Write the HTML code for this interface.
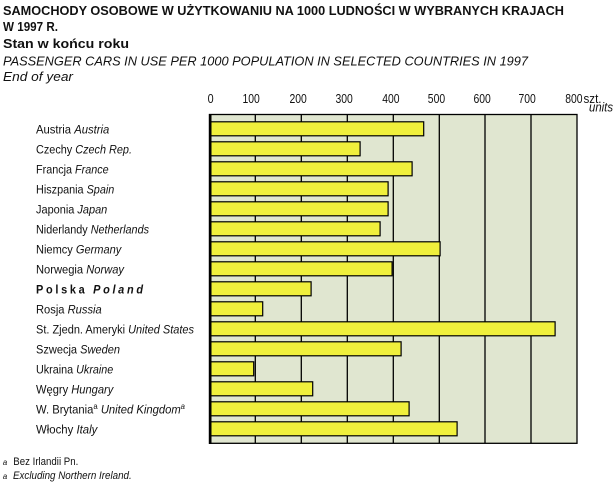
<!DOCTYPE html>
<html>
<head>
<meta charset="utf-8">
<style>
html,body{margin:0;padding:0;background:#fff;}
svg{display:block;}
text{font-family:"Liberation Sans","DejaVu Sans",sans-serif;fill:#111;}
.b{font-weight:bold;}
.i{font-style:italic;}
</style>
</head>
<body>
<svg width="614" height="486" viewBox="0 0 614 486" xmlns="http://www.w3.org/2000/svg">
<rect x="0" y="0" width="614" height="486" fill="#fff"/>

<!-- Titles -->
<text class="b" x="3" y="15" font-size="12.5" textLength="561" lengthAdjust="spacingAndGlyphs">SAMOCHODY  OSOBOWE  W  UŻYTKOWANIU  NA  1000  LUDNOŚCI  W  WYBRANYCH  KRAJACH</text>
<text class="b" x="3" y="31" font-size="12.5" textLength="55" lengthAdjust="spacingAndGlyphs">W  1997 R.</text>
<text class="b" x="3" y="48" font-size="12.5" textLength="126" lengthAdjust="spacingAndGlyphs">Stan w końcu roku</text>
<text class="i" x="3" y="65.5" font-size="12.5" textLength="525" lengthAdjust="spacingAndGlyphs">PASSENGER  CARS  IN  USE  PER  1000  POPULATION  IN  SELECTED  COUNTRIES  IN  1997</text>
<text class="i" x="3" y="81" font-size="12.5" textLength="70" lengthAdjust="spacingAndGlyphs">End  of  year</text>

<!-- Axis tick labels -->
<g font-size="12.5">
<text x="207.6" y="103" textLength="6" lengthAdjust="spacingAndGlyphs">0</text>
<text x="242.5" y="103" textLength="17.3" lengthAdjust="spacingAndGlyphs">100</text>
<text x="289.5" y="103" textLength="17.3" lengthAdjust="spacingAndGlyphs">200</text>
<text x="335.5" y="103" textLength="17.3" lengthAdjust="spacingAndGlyphs">300</text>
<text x="382.2" y="103" textLength="17.3" lengthAdjust="spacingAndGlyphs">400</text>
<text x="427.8" y="103" textLength="17.3" lengthAdjust="spacingAndGlyphs">500</text>
<text x="473.5" y="103" textLength="17.3" lengthAdjust="spacingAndGlyphs">600</text>
<text x="518.5" y="103" textLength="17.3" lengthAdjust="spacingAndGlyphs">700</text>
<text x="565.2" y="103" textLength="17.3" lengthAdjust="spacingAndGlyphs">800</text>
<text x="583.5" y="103" textLength="18" lengthAdjust="spacingAndGlyphs">szt.</text>
<text class="i" x="589" y="111.5" textLength="24" lengthAdjust="spacingAndGlyphs">units</text>
</g>

<!-- Plot area -->
<rect x="209.5" y="114.5" width="367.5" height="328.8" fill="#e0e6d0" stroke="#000" stroke-width="1.3"/>
<g stroke="#000" stroke-width="1.3">
<line x1="255.3" y1="114.5" x2="255.3" y2="443.3"/>
<line x1="301.3" y1="114.5" x2="301.3" y2="443.3"/>
<line x1="347.3" y1="114.5" x2="347.3" y2="443.3"/>
<line x1="393.3" y1="114.5" x2="393.3" y2="443.3"/>
<line x1="439.3" y1="114.5" x2="439.3" y2="443.3"/>
<line x1="485" y1="114.5" x2="485" y2="443.3"/>
<line x1="531" y1="114.5" x2="531" y2="443.3"/>
</g>

<!-- Bars -->
<g fill="#f0f03c" stroke="#000" stroke-width="1.2">
<rect x="210.5" y="121.8" width="213.2" height="14"/>
<rect x="210.5" y="141.8" width="149.6" height="14"/>
<rect x="210.5" y="161.8" width="201.6" height="14"/>
<rect x="210.5" y="181.8" width="177.6" height="14"/>
<rect x="210.5" y="201.8" width="177.6" height="14"/>
<rect x="210.5" y="221.8" width="169.6" height="14"/>
<rect x="210.5" y="241.8" width="229.6" height="14"/>
<rect x="210.5" y="261.8" width="181.6" height="14"/>
<rect x="210.5" y="281.8" width="100.6" height="14"/>
<rect x="210.5" y="301.8" width="52.2" height="14"/>
<rect x="210.5" y="321.8" width="344.6" height="14"/>
<rect x="210.5" y="341.8" width="190.6" height="14"/>
<rect x="210.5" y="361.8" width="43.2" height="14"/>
<rect x="210.5" y="381.8" width="102.2" height="14"/>
<rect x="210.5" y="401.8" width="198.6" height="14"/>
<rect x="210.5" y="421.8" width="246.6" height="14"/>
</g>
<line x1="210.2" y1="114" x2="210.2" y2="444" stroke="#000" stroke-width="2.6"/>

<!-- Country labels -->
<g font-size="12.3">
<text x="36" y="133.3" textLength="73.3" lengthAdjust="spacingAndGlyphs">Austria  <tspan class="i">Austria</tspan></text>
<text x="36" y="153.3" textLength="96" lengthAdjust="spacingAndGlyphs">Czechy  <tspan class="i">Czech Rep.</tspan></text>
<text x="36" y="173.3" textLength="72.7" lengthAdjust="spacingAndGlyphs">Francja  <tspan class="i">France</tspan></text>
<text x="36" y="193.3" textLength="78.3" lengthAdjust="spacingAndGlyphs">Hiszpania  <tspan class="i">Spain</tspan></text>
<text x="36" y="213.3" textLength="71.3" lengthAdjust="spacingAndGlyphs">Japonia  <tspan class="i">Japan</tspan></text>
<text x="36" y="233.3" textLength="113" lengthAdjust="spacingAndGlyphs">Niderlandy  <tspan class="i">Netherlands</tspan></text>
<text x="36" y="253.3" textLength="85.3" lengthAdjust="spacingAndGlyphs">Niemcy  <tspan class="i">Germany</tspan></text>
<text x="36" y="273.3" textLength="88" lengthAdjust="spacingAndGlyphs">Norwegia  <tspan class="i">Norway</tspan></text>
<text class="b" x="36" y="293.5" textLength="109.7" lengthAdjust="spacingAndGlyphs" letter-spacing="3">Polska  <tspan class="i">Poland</tspan></text>
<text x="36" y="313.3" textLength="65.7" lengthAdjust="spacingAndGlyphs">Rosja  <tspan class="i">Russia</tspan></text>
<text x="36" y="333.3" textLength="158" lengthAdjust="spacingAndGlyphs">St. Zjedn. Ameryki  <tspan class="i">United States</tspan></text>
<text x="36" y="353.3" textLength="84" lengthAdjust="spacingAndGlyphs">Szwecja  <tspan class="i">Sweden</tspan></text>
<text x="36" y="373.3" textLength="77.3" lengthAdjust="spacingAndGlyphs">Ukraina  <tspan class="i">Ukraine</tspan></text>
<text x="36" y="393.3" textLength="77.3" lengthAdjust="spacingAndGlyphs">Węgry  <tspan class="i">Hungary</tspan></text>
<text x="36" y="413.3" textLength="149" lengthAdjust="spacingAndGlyphs">W. Brytania<tspan font-size="8.5" dy="-4.5">a</tspan><tspan dy="4.5">  </tspan><tspan class="i">United Kingdom</tspan><tspan class="i" font-size="8.5" dy="-4.5">a</tspan></text>
<text x="36" y="433.3" textLength="61.3" lengthAdjust="spacingAndGlyphs">Włochy  <tspan class="i">Italy</tspan></text>
</g>

<!-- Footnotes -->
<text class="i" x="2.7" y="465" font-size="8">a</text>
<text x="13.3" y="465" font-size="10.8" textLength="65" lengthAdjust="spacingAndGlyphs">Bez Irlandii Pn.</text>
<text class="i" x="2.7" y="479" font-size="8">a</text>
<text class="i" x="13" y="479" font-size="10.8" textLength="118.7" lengthAdjust="spacingAndGlyphs">Excluding Northern Ireland.</text>
</svg>
</body>
</html>
